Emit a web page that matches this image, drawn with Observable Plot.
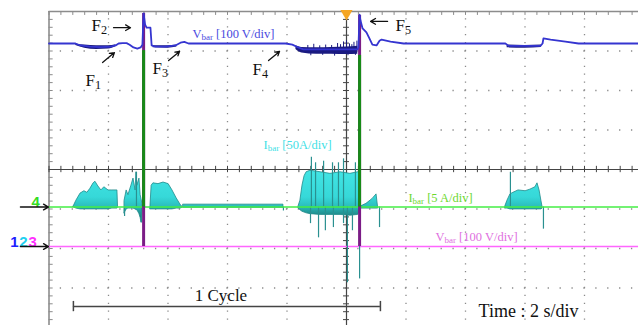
<!DOCTYPE html>
<html><head><meta charset="utf-8">
<script src="https://cdn.jsdelivr.net/npm/d3@7"></script>
<script src="https://cdn.jsdelivr.net/npm/@observablehq/plot@0.6"></script>
<style>
html,body{margin:0;padding:0;background:#fff;}
#chart{width:638px;height:325px;overflow:hidden;}
</style></head><body><div id="chart"></div>
<script>
// ---- Scope settings: time 2 s/div (10 div), 8 vertical divisions ----
const gridX = d3.range(0, 21, 2);          // seconds
const gridY = d3.range(-4, 5, 1);          // divisions
const minorX = d3.range(0, 20.001, 0.4);
const minorY = d3.range(-4, 4.001, 0.2);
const CH123_OFFSET = -1.95;                // ground marker of ch1/2/3 (div)
const CH4_OFFSET = -0.95;                  // ground marker of ch4 (div)

// ---- Ch1: Vbar [100 V/div], [time s, volts] ----
const vbarTrace = [
  [0,514],[0.89,514],[1.06,509],[1.39,506],[1.73,505],[2.07,506],[2.24,509],[2.34,514],
  [2.47,515],[2.61,515],[2.71,511],[2.84,504],[2.97,501],[3.08,504],[3.14,511],[3.18,590],
  [3.23,562],[3.28,554],[3.41,554],[3.45,509],[3.58,506],[3.92,506],[4.25,509],[4.42,516],
  [4.55,518],[4.69,514],[5.09,514],[7.95,514],[8.18,511],[8.38,504],[8.55,499],[10.37,499],
  [10.40,504],[10.44,587],[10.47,572],[10.54,552],[10.67,542],[10.77,527],[10.87,511],
  [11.01,509],[11.11,521],[11.18,524],[11.48,519],[11.92,514],[15.34,514],[15.45,508],
  [16.52,508],[16.59,514],[16.62,527],[16.86,524],[17.36,519],[17.80,514],[20,514]
];
// noise bands on ch1: [band, t, low V, high V]
const vbarNoise = [
  ["a",0.9,509,513],["a",1.2,502,510],["a",1.6,499,508],["a",2.0,500,508],["a",2.25,506,511],
  ["b",3.5,503,508],["b",4.0,502,508],["b",4.3,505,510],
  ["c",8.3,499,508],["c",8.5,490,504],["c",9.0,487,503],["c",9.5,487,504],["c",10.0,486,505],["c",10.38,487,507],
  ["d",15.4,503,510],["d",16.0,502,509],["d",16.55,504,510]
];
const vbarNoiseSpikes = [
  [8.7,509],[8.9,512],[9.1,508],[9.3,510],[9.5,509],[9.7,514],[9.8,511],[9.9,518],[10.0,521],
  [10.1,513],[10.18,511],[10.25,517],[10.35,520],
  [8.8,483],[9.2,484],[9.6,482],[10.05,483],[10.3,484]
];

// ---- Ch2: Ibar [50 A/div], bursts [burst, t, low A, high A] ----
const ibarBursts = [
  [1,0.82,50,50],[1,0.92,48,58],[1,1.06,47,67],[1,1.19,47,70],[1,1.29,47,68],[1,1.39,47,73],
  [1,1.50,47,80],[1,1.56,47,82],[1,1.66,47,76],[1,1.76,47,71],[1,1.86,47,75],[1,2.00,47,71],
  [1,2.13,48,71],[1,2.30,48,71],[1,2.32,50,50],
  [2,2.54,42,58],[2,2.61,47,71],[2,2.67,48,65],[2,2.77,48,77],[2,2.84,48,86],[2,2.91,47,71],
  [2,2.94,46,94],[2,2.97,46,77],[2,3.04,41,86],[2,3.08,36,65],[2,3.11,30,60],[2,3.14,43,54],
  [3,3.41,47,51],[3,3.45,47,77],[3,3.51,47,80],[3,3.68,47,79],[3,3.85,47,81],[3,4.02,47,79],
  [3,4.15,47,71],[3,4.29,48,61],[3,4.42,48,53],[3,4.49,49,50],
  [4,4.52,49,53],[4,7.88,49,53],
  [5,8.39,48,51],[5,8.45,46,58],[5,8.52,44,77],[5,8.59,43,89],[5,8.66,42,94],[5,8.79,41,96],
  [5,9.13,40,94],[5,9.46,40,92],[5,9.80,40,94],[5,10.13,39,92],[5,10.39,40,94],[5,10.47,46,94],[5,10.48,48,50],
  [6,10.50,48,51],[6,10.67,48,54],[6,10.87,48,60],[6,11.01,48,66],[6,11.06,48,50],
  [7,15.34,48,51],[7,15.41,48,58],[7,15.51,47,66],[7,15.61,47,68],[7,15.78,47,71],[7,16.02,47,70],
  [7,16.18,47,72],[7,16.35,47,75],[7,16.42,47,80],[7,16.49,47,71],[7,16.55,47,58],[7,16.59,48,50]
];
const ibarBase = 50;
const ibarSpikes = [
  [8.82,113],[8.96,106],[9.23,108],[9.53,106],[9.73,106],[9.90,111],[10.30,106],[15.51,94],[2.94,94],
  [8.79,29],[9.06,11],[9.29,20],[9.56,24],[9.90,29],[10.03,-46],[10.20,20],[10.44,-41],
  [11.11,24],[16.62,22],[2.54,38],[3.11,30],[7.88,45]
];

// ---- Ch3: Vbar [100 V/div] and Ch4: Ibar [5 A/div] ----
const ch3Trace = [[0,0],[20,0]];
const ch3Spikes = [[3.18,590],[10.44,585]];
const ch4Trace = [[0,0],[20,0]];
const ch4Spikes = [[3.18,19.8],[10.44,19.2]];

// ---- Annotations (t in s, y in div) ----
const fLabels = [
  {text:"F_{1}", t:1.23, d:2.25},
  {text:"F_{2}", t:1.43, d:3.65},
  {text:"F_{3}", t:3.48, d:2.56},
  {text:"F_{4}", t:6.84, d:2.53},
  {text:"F_{5}", t:11.65, d:3.65}
];
const fArrows = [
  {t1:1.80, d1:2.71, t2:2.20, d2:2.96},
  {t1:2.17, d1:3.59, t2:2.74, d2:3.59},
  {t1:4.02, d1:2.76, t2:4.39, d2:2.99},
  {t1:7.38, d1:2.76, t2:7.75, d2:2.99},
  {t1:11.38, d1:3.75, t2:10.81, d2:3.75}
];
const chLabels = [
  {text:"V_{bar} [100 V/div]", t:4.82, d:3.42, color:"#4a4ae0"},
  {text:"I_{bar} [50A/div]", t:7.21, d:0.61, color:"#3fdfe6"},
  {text:"I_{bar} [5 A/div]", t:12.08, d:-0.73, color:"#6cd82e"},
  {text:"V_{bar} [100 V/div]", t:12.99, d:-1.72, color:"#e070e0"}
];
const chMarkers = [
  {text:"4", t:-0.45, d:CH4_OFFSET + 0.12, color:"#33dd22"},
  {text:"1", t:-1.16, d:CH123_OFFSET + 0.1, color:"#2020ff"},
  {text:"2", t:-0.86, d:CH123_OFFSET + 0.1, color:"#22d0f0"},
  {text:"3", t:-0.55, d:CH123_OFFSET + 0.1, color:"#ff30ff"}
];
const cycleSpan = [0.82, 11.14];
const cycleY = -3.47;

const ch1 = v => CH123_OFFSET + v / 100;
const ch2 = a => CH123_OFFSET + a / 50;
const ch3 = v => CH123_OFFSET + v / 100;
const ch4 = a => CH4_OFFSET + a / 5;

const serif = "'Liberation Serif', 'Times New Roman', serif";

const plot = Plot.plot({
  width: 638, height: 325,
  marginLeft: 48.5, marginRight: -5.5, marginTop: 11, marginBottom: -2,
  x: {domain: [0, 20], axis: null},
  y: {domain: [-4, 4], axis: null},
  style: {background: "white"},
  marks: [
    // dotted grid
    Plot.ruleX(gridX.filter(x => x !== 0 && x !== 10), {x: d => d, stroke: "#8a8a8a", strokeWidth: 1.3, strokeDasharray: "1.3,6.6", strokeDashoffset: 0.65}),
    Plot.ruleY(gridY.filter(y => y !== 0 && y !== 4), {y: d => d, stroke: "#8a8a8a", strokeWidth: 1.3, strokeDasharray: "1.3,10.6", strokeDashoffset: 0.65}),
    // frame (left/top)
    Plot.ruleX([0], {x: d => d, stroke: "#8c8c8c", strokeWidth: 1.6}),
    Plot.ruleY([4], {y: d => d, stroke: "#8c8c8c", strokeWidth: 1.6}),
    Plot.ruleY(minorY, {y: d => d, x1: 0, x2: 0.14, stroke: "#8c8c8c", strokeWidth: 1}),
    Plot.ruleX(minorX, {x: d => d, y1: 4, y2: 3.9, stroke: "#8c8c8c", strokeWidth: 1}),
    // center lines with ticks
    Plot.ruleX([10], {x: d => d, stroke: "#444", strokeWidth: 1.2}),
    Plot.ruleY([0], {y: d => d, stroke: "#444", strokeWidth: 1.2}),
    Plot.ruleX(minorX, {x: d => d, y1: -0.08, y2: 0.08, stroke: "#444", strokeWidth: 1}),
    Plot.ruleY(minorY, {y: d => d, x1: 9.9, x2: 10.1, stroke: "#444", strokeWidth: 1}),
    // ch3 pink trace
    Plot.line(ch3Trace, {x: d => d[0], y: d => ch3(d[1]), stroke: "#ff66ff", strokeWidth: 1.5}),
    // ch2 cyan bursts
    Plot.areaY(ibarBursts, {x: d => d[1], y1: d => ch2(d[2]), y2: d => ch2(d[3]), z: d => d[0], fill: "url(#cyanGrad)", stroke: "#1f8a8a", strokeWidth: 0.8}),
    Plot.ruleX(ibarSpikes, {x: d => d[0], y1: ch2(ibarBase), y2: d => ch2(d[1]), stroke: "#2a9090", strokeWidth: 1.2}),
    // ch4 green trace
    Plot.line(ch4Trace, {x: d => d[0], y: d => ch4(d[1]), stroke: "#44ee44", strokeWidth: 1.5}),
    // spikes
    Plot.ruleX(ch3Spikes, {x: d => d[0], y1: ch3(0), y2: d => ch3(d[1]), stroke: "#7b1c86", strokeWidth: 3}),
    Plot.ruleX(ch4Spikes, {x: d => d[0], y1: ch4(0), y2: d => ch4(d[1]), stroke: "#178a17", strokeWidth: 3}),
    // ch1 blue
    Plot.areaY(vbarNoise, {x: d => d[1], y1: d => ch1(d[2]), y2: d => ch1(d[3]), z: d => d[0], fill: "#1a1a80", curve: "monotone-x"}),
    Plot.ruleX(vbarNoiseSpikes, {x: d => d[0], y1: ch1(496), y2: d => ch1(d[1]), stroke: "#1a1a80", strokeWidth: 1}),
    Plot.line(vbarTrace, {x: d => d[0], y: d => ch1(d[1]), stroke: "#3535d0", strokeWidth: 1.8}),
    // trigger marker
    Plot.dot([10], {x: d => d, y: 4, dy: 2, symbol: "triangle", rotate: 180, r: 4.5, fill: "#f5a623"}),
    // annotations
    Plot.text(fLabels, {x: "t", y: "d", text: "text", textAnchor: "start", fontFamily: serif, fontSize: 17, fill: "#111"}),
    Plot.arrow(fArrows, {x1: "t1", y1: "d1", x2: "t2", y2: "d2", stroke: "#111", strokeWidth: 1.3, headLength: 7}),
    Plot.text(chLabels, {x: "t", y: "d", text: "text", textAnchor: "start", fontFamily: serif, fontSize: 12.5, fill: d => d.color}),
    Plot.text(chMarkers, {x: "t", y: "d", text: "text", fontFamily: "'Liberation Sans', Arial, sans-serif", fontWeight: "bold", fontSize: 15, fill: d => d.color}),
    Plot.arrow([CH4_OFFSET, CH123_OFFSET], {x1: -0.96, x2: -0.02, y1: d => d, y2: d => d, stroke: "#111", strokeWidth: 1.4, headLength: 6}),
    // 1 cycle bar
    Plot.ruleY([cycleY], {y: d => d, x1: cycleSpan[0], x2: cycleSpan[1], stroke: "#444", strokeWidth: 1.5}),
    Plot.ruleX(cycleSpan, {x: d => d, y1: cycleY - 0.13, y2: cycleY + 0.13, stroke: "#444", strokeWidth: 1.5}),
    Plot.text(["1 Cycle"], {x: (cycleSpan[0] + cycleSpan[1]) / 2 - 0.2, y: cycleY + 0.28, text: d => d, fontFamily: serif, fontSize: 17, fill: "#111"}),
    Plot.text(["Time : 2 s/div"], {x: 14.44, y: -3.59, text: d => d, textAnchor: "start", fontFamily: serif, fontSize: 18, fill: "#111"})
  ]
});

const svg = d3.select(plot);
const grad = svg.insert("defs", ":first-child").append("linearGradient")
  .attr("id", "cyanGrad").attr("gradientUnits", "userSpaceOnUse")
  .attr("x1", 0).attr("y1", 155).attr("x2", 0).attr("y2", 225);
[[0, "#3cdada"], [0.12, "#45e8e8"], [0.6, "#36d8d8"], [0.72, "#2cc0c0"], [0.8, "#23a0a0"], [0.88, "#1e8282"], [1, "#3a7a7a"]]
  .forEach(([o, c]) => grad.append("stop").attr("offset", o).attr("stop-color", c));

svg.selectAll("text").each(function () {
  const s = this.textContent;
  if (!s.includes("_{")) return;
  const el = d3.select(this);
  el.text(null);
  s.split(/(_\{[^}]*\})/).forEach(p => {
    if (!p) return;
    const m = /^_\{([^}]*)\}$/.exec(p);
    if (m) el.append("tspan").attr("font-size", "72%").attr("baseline-shift", "-0.22em").text(m[1]);
    else el.append("tspan").text(p);
  });
});

document.getElementById("chart").appendChild(plot);
</script></body></html>
